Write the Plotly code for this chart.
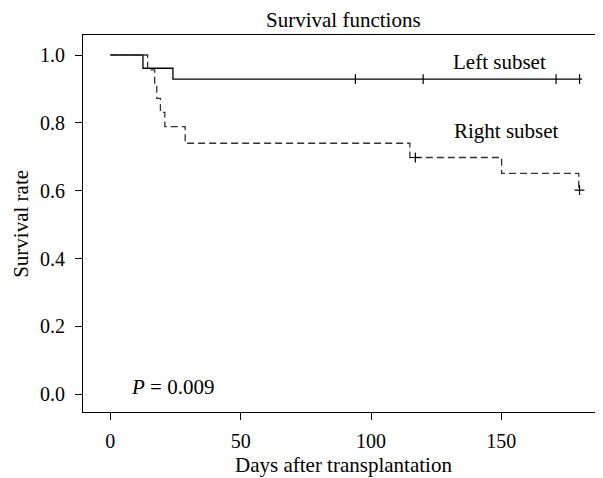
import plotly.graph_objects as go

# Left subset (solid) Kaplan-Meier steps
left_time = [0, 12.5, 24.0, 181.0]
left_surv = [1.0, 0.961, 0.929, 0.929]
left_cens_time = [94, 120, 171, 180]
left_cens_surv = [0.929, 0.929, 0.929, 0.929]

# Right subset (dashed) Kaplan-Meier steps
right_time = [0, 14.3, 17.0, 17.8, 19.2, 20.9, 28.7, 114.9, 150.1, 179.7, 180.0]
right_surv = [1.0, 0.956, 0.915, 0.872, 0.831, 0.789, 0.740, 0.698, 0.651, 0.602, 0.602]
right_cens_time = [117, 180]
right_cens_surv = [0.698, 0.602]

x_ticks = [0, 50, 100, 150]
y_ticks = [0.0, 0.2, 0.4, 0.6, 0.8, 1.0]

FONT = "Liberation Serif"
TXT = 21

fig = go.Figure()
fig.add_trace(go.Scatter(x=left_time, y=left_surv, mode="lines", line_shape="hv",
                         line=dict(color="black", width=1.3), showlegend=False))
fig.add_trace(go.Scatter(x=left_cens_time, y=left_cens_surv, mode="markers",
                         marker=dict(symbol="line-ns", size=7, line=dict(color="black", width=1.2)),
                         showlegend=False))
fig.add_trace(go.Scatter(x=right_time, y=right_surv, mode="lines", line_shape="hv",
                         line=dict(color="#333333", width=1.3, dash="7px,4px"), showlegend=False))
fig.add_trace(go.Scatter(x=right_cens_time, y=right_cens_surv, mode="markers",
                         marker=dict(symbol="cross-thin", size=7, line=dict(color="black", width=1.2)),
                         showlegend=False))

fig.add_annotation(x=149.3, y=0.980, text="Left subset", showarrow=False,
                   font=dict(family=FONT, size=TXT, color="black"))
fig.add_annotation(x=151.8, y=0.777, text="Right subset", showarrow=False,
                   font=dict(family=FONT, size=TXT, color="black"))
fig.add_annotation(x=7.0, y=0.021, text="<i>P</i> = 0.009", showarrow=False, xanchor="left",
                   font=dict(family=FONT, size=TXT, color="black"))
# plot area: 75..595 px wide, 27..403.7 px tall (figure coords)
fig.add_annotation(xref="paper", yref="paper", x=0.5, y=1.04, yanchor="middle",
                   text="Survival functions", showarrow=False,
                   font=dict(family=FONT, size=TXT, color="black"))
fig.add_annotation(xref="paper", yref="paper", x=0.5, y=-0.140, yanchor="middle",
                   text="Days after transplantation", showarrow=False,
                   font=dict(family=FONT, size=TXT, color="black"))
fig.add_annotation(xref="paper", yref="paper", x=-0.1205, y=0.5, xanchor="center",
                   yanchor="middle", textangle=-90,
                   text="Survival rate", showarrow=False,
                   font=dict(family=FONT, size=TXT, color="black"))

fig.update_layout(
    width=595, height=470,
    margin=dict(l=75, r=0, t=27, b=66),
    paper_bgcolor="white", plot_bgcolor="white",
    font=dict(family=FONT, size=20, color="black"),
)
fig.update_xaxes(range=[-10.5, 189.0], tickvals=x_ticks, ticktext=[str(v) for v in x_ticks],
                 showgrid=False, zeroline=False, showline=True, linecolor="black", linewidth=1,
                 mirror=True, ticks="outside", ticklen=7, tickcolor="black", tickwidth=1,
                 ticklabelstandoff=4)
fig.update_yaxes(range=[-0.052, 1.059], tickvals=y_ticks, ticktext=[f"{v:.1f}" for v in y_ticks],
                 showgrid=False, zeroline=False, showline=True, linecolor="black", linewidth=1,
                 mirror=False, ticks="outside", ticklen=7, tickcolor="black", tickwidth=1,
                 ticklabelstandoff=6)

fig.write_html("out.html")
